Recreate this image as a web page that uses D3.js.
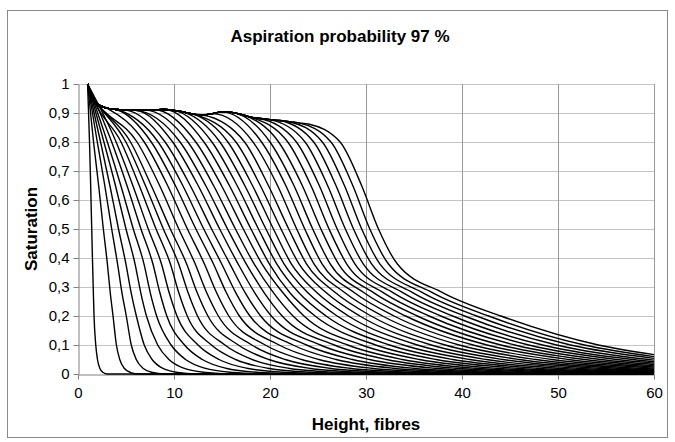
<!DOCTYPE html>
<html>
<head>
<meta charset="utf-8">
<script src="https://cdn.jsdelivr.net/npm/d3@7"></script>
<style>
  html, body { margin: 0; padding: 0; background: #fff; }
  svg { display: block; font-family: "Liberation Sans", Arial, sans-serif; }
</style>
</head>
<body>
<svg id="chart" width="675" height="442"></svg>
<script>
// ---- Data ----
// 37 saturation profiles; each described by the height (x) at which it crosses given saturation levels.
const titleText = "Aspiration probability 97 %";
const xLabel = "Height, fibres";
const yLabel = "Saturation";
const xTicks = [0, 10, 20, 30, 40, 50, 60];
const yTicks = [0, 0.1, 0.2, 0.3, 0.4, 0.5, 0.6, 0.7, 0.8, 0.9, 1];

// common upper plateau (envelope) shared by the profiles
const plateauX = [1, 1.5, 2, 3, 4, 5, 6, 7, 8, 9, 10, 11, 12, 13, 14, 15, 16, 17, 18, 19, 20, 21, 22, 23, 24];
const plateauY = [1, 0.955, 0.932, 0.917, 0.912, 0.91, 0.909, 0.91, 0.911, 0.912, 0.909, 0.903, 0.896, 0.893, 0.898, 0.904, 0.902, 0.895, 0.886, 0.881, 0.877, 0.874, 0.87, 0.866, 0.862];

const cross80 = [1.20, 1.62, 2.01, 2.35, 2.70, 3.06, 3.51, 3.97, 4.48, 4.99, 5.47, 6.15, 6.90, 7.63, 8.35, 9.07, 9.86, 10.63, 11.45, 12.27, 13.12, 13.95, 14.78, 15.61, 16.45, 17.35, 18.23, 19.12, 20.00, 20.90, 21.85, 22.75, 23.65, 24.55, 25.45, 26.35, 27.30];
const cross65 = [1.32, 2.15, 2.79, 3.32, 3.90, 4.46, 5.10, 5.71, 6.38, 7.02, 7.63, 8.50, 9.33, 10.14, 10.91, 11.69, 12.51, 13.30, 14.12, 14.94, 15.77, 16.57, 17.37, 18.17, 18.99, 19.83, 20.78, 21.64, 22.49, 23.36, 24.26, 25.13, 26.00, 26.87, 27.75, 28.62, 29.54];
const cross50 = [1.43, 2.64, 3.51, 4.22, 5.00, 5.76, 6.56, 7.32, 8.13, 8.89, 9.62, 10.50, 11.40, 12.28, 13.10, 13.92, 14.76, 15.58, 16.40, 17.22, 18.02, 18.80, 19.58, 20.36, 21.15, 21.95, 22.78, 23.62, 24.45, 25.30, 26.15, 27.00, 27.85, 28.70, 29.55, 30.40, 31.30];
const cross38 = [1.52, 3.06, 4.12, 4.99, 5.94, 6.87, 7.80, 8.69, 9.62, 10.48, 11.31, 12.20, 13.16, 14.10, 14.96, 15.82, 16.67, 17.52, 18.34, 19.16, 19.93, 20.70, 21.46, 22.22, 23.02, 23.80, 24.58, 25.42, 26.27, 27.13, 27.98, 28.84, 29.71, 30.58, 31.44, 32.32, 33.25];
const cross28 = [1.60, 3.36, 4.58, 5.54, 6.54, 7.53, 8.53, 9.50, 10.50, 11.47, 12.42, 13.41, 14.44, 15.46, 16.44, 17.42, 18.41, 19.40, 20.37, 21.35, 22.07, 23.01, 23.95, 24.90, 25.87, 26.83, 27.80, 28.80, 29.80, 30.82, 31.83, 32.85, 33.87, 34.90, 35.93, 36.96, 38.02];
const cross20 = [1.67, 3.65, 5.03, 6.08, 7.13, 8.19, 9.25, 10.31, 11.38, 12.45, 13.53, 14.62, 15.71, 16.81, 17.91, 19.02, 20.14, 21.27, 22.40, 23.54, 24.69, 25.84, 27.00, 28.17, 29.35, 30.53, 31.72, 32.92, 34.13, 35.34, 36.56, 37.79, 39.03, 40.27, 41.52, 42.78, 44.04];
const cross10 = [1.85, 4.00, 5.55, 6.90, 8.30, 9.70, 11.10, 12.50, 13.90, 15.30, 16.70, 18.10, 19.50, 20.95, 22.40, 23.80, 25.25, 26.70, 28.10, 29.55, 31.00, 32.45, 33.90, 35.35, 36.80, 38.25, 39.70, 41.15, 42.60, 44.05, 45.50, 46.95, 48.40, 49.85, 51.30, 52.75, 54.20];
const cross05 = [2.03, 4.35, 6.07, 7.72, 9.47, 11.21, 12.95, 14.69, 16.42, 18.15, 19.87, 21.58, 23.29, 25.09, 26.89, 28.58, 30.36, 32.13, 33.80, 35.56, 37.31, 39.06, 40.80, 42.53, 44.25, 45.97, 47.68, 49.38, 51.07, 52.76, 54.44, 56.11, 57.77, 59.43, null, null, null];
const cross02 = [2.27, 4.81, 6.76, 8.80, 11.01, 13.20, 15.39, 17.58, 19.75, 21.91, 24.05, 26.17, 28.29, 30.55, 32.82, 34.89, 37.11, 39.30, 41.32, 43.49, 45.64, 47.79, 49.91, 52.01, 54.08, 56.16, 58.21, null, null, null, null, null, null, null, null, null, null];
const cross005 = [2.62, 5.51, 7.79, 10.43, 13.33, 16.19, 19.06, 21.92, 24.74, 27.56, 30.33, 33.06, 35.80, 38.75, 41.71, 44.35, 47.22, 50.05, 52.61, 55.39, 58.13, null, null, null, null, null, null, null, null, null, null, null, null, null, null, null, null];
const cross0 = [3.02, 6.28, 8.93, 12.23, 15.91, 19.52, 23.13, 26.74, 30.28, 33.83, 37.31, 40.72, 44.14, 47.86, 51.59, 54.87, 58.47, null, null, null, null, null, null, null, null, null, null, null, null, null, null, null, null, null, null, null, null];
// saturation at height 60 (right edge)
const end60 = [0, 0, 0, 0, 0, 0, 0, 0, 0, 0, 0, 0, 0, 0, 0, 0, 0, 0.001, 0.002, 0.003, 0.004, 0.0056, 0.0073, 0.0093, 0.0116, 0.0142, 0.0172, 0.0204, 0.0241, 0.0281, 0.0325, 0.0373, 0.0424, 0.048, 0.054, 0.060, 0.067];

const levelArrays = [
  [0.8, cross80], [0.65, cross65], [0.5, cross50], [0.38, cross38], [0.28, cross28],
  [0.2, cross20], [0.1, cross10], [0.05, cross05], [0.02, cross02], [0.005, cross005], [0, cross0]
];

// ---- Build each profile from the arrays ----
const profiles = cross50.map((_, k) => {
  const pts = [];
  const gapLimit = cross80[k] - 0.75 * (cross50[k] - cross80[k]);
  plateauX.forEach((px, i) => {
    if (i === 0 || px <= gapLimit) pts.push([px, plateauY[i]]);
  });
  levelArrays.forEach(([lv, arr]) => {
    const v = arr[k];
    if (v !== null && v !== undefined && v <= 60 && v > pts[pts.length - 1][0]) pts.push([v, lv]);
  });
  if (pts[pts.length - 1][0] < 60) pts.push([60, end60[k]]);
  return pts;
});

// ---- Drawing ----
const svg = d3.select("#chart");
const plotL = 78, plotR = 654, plotT = 84, plotB = 374;
const x = d3.scaleLinear().domain([0, 60]).range([plotL, plotR]);
const y = d3.scaleLinear().domain([0, 1]).range([plotB, plotT]);

// chart area border
svg.append("rect").attr("x", 7.5).attr("y", 10.5).attr("width", 660).attr("height", 427)
  .attr("fill", "#fff").attr("stroke", "#8a8a8a").attr("stroke-width", 1);

// horizontal gridlines
svg.append("g").selectAll("line").data(yTicks.filter(d => d > 0)).join("line")
  .attr("x1", plotL).attr("x2", plotR)
  .attr("y1", d => Math.round(y(d)) + 0.5).attr("y2", d => Math.round(y(d)) + 0.5)
  .attr("stroke", "#c4c4c4").attr("stroke-width", 1);

// vertical gridlines
svg.append("g").selectAll("line").data(xTicks.filter(d => d > 0)).join("line")
  .attr("x1", d => Math.round(x(d)) + 0.5).attr("x2", d => Math.round(x(d)) + 0.5)
  .attr("y1", plotT).attr("y2", plotB)
  .attr("stroke", "#9a9a9a").attr("stroke-width", 1);

const fmtY = d => (d === 0 ? "0" : d === 1 ? "1" : d3.format(".1f")(d).replace(".", ","));

const yAxis = svg.append("g").attr("transform", `translate(${plotL + 0.5},0)`)
  .call(d3.axisLeft(y).tickValues(yTicks).tickFormat(fmtY).tickSize(5).tickSizeOuter(0).tickPadding(4));
const xAxis = svg.append("g").attr("transform", `translate(0,${plotB + 0.5})`)
  .call(d3.axisBottom(x).tickValues(xTicks).tickFormat(d3.format("d")).tickSize(5).tickSizeOuter(0).tickPadding(8));

[yAxis, xAxis].forEach(g => {
  g.select(".domain").attr("stroke", "#808080");
  g.selectAll(".tick line").attr("stroke", "#808080");
  g.selectAll(".tick text").attr("fill", "#000").attr("font-size", 15)
    .attr("font-family", "'Liberation Sans', Arial, sans-serif");
});

// profiles
const line = d3.line().x(d => x(d[0])).y(d => y(d[1])).curve(d3.curveMonotoneX);
svg.append("g").selectAll("path").data(profiles).join("path")
  .attr("d", line).attr("fill", "none").attr("stroke", "#000").attr("stroke-width", 1.4)
  .attr("stroke-linejoin", "round");

// texts
svg.append("text").attr("x", 340).attr("y", 42).attr("text-anchor", "middle")
  .attr("font-size", 17).attr("font-weight", "bold").text(titleText);
svg.append("text").attr("x", 366).attr("y", 430).attr("text-anchor", "middle")
  .attr("font-size", 17).attr("font-weight", "bold").text(xLabel);
svg.append("text").attr("transform", "translate(37,229) rotate(-90)").attr("text-anchor", "middle")
  .attr("font-size", 17).attr("font-weight", "bold").text(yLabel);
</script>
</body>
</html>
